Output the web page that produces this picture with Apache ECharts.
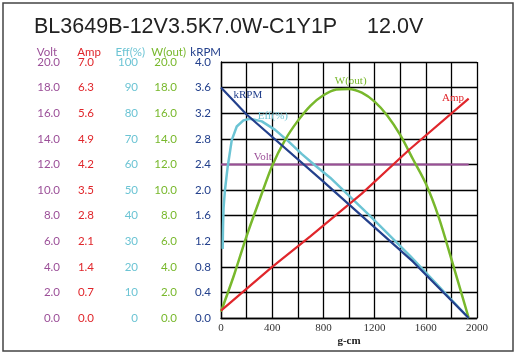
<!DOCTYPE html>
<html>
<head>
<meta charset="utf-8">
<script src="https://cdn.jsdelivr.net/npm/echarts@6/dist/echarts.min.js"></script>
<style>
html,body{margin:0;padding:0;background:#fff;}
#c{width:516px;height:355px;}
</style>
</head>
<body>
<div id="c"></div>
<script>
// ---- data ----
const titleText = 'BL3649B-12V3.5K7.0W-C1Y1P     12.0V';
const xTicks = [0, 400, 800, 1200, 1600, 2000];

const voltTorque = [0, 1935];
const voltValues = [12.0, 12.0];

const ampTorque = [0, 400, 700, 1100, 1470, 1935];
const ampValues = [0.2, 1.4, 2.24, 3.4, 4.6, 6.0];

const effTorque = [13, 16, 20, 31, 52, 84, 123, 175, 227, 319, 423, 527, 632, 736, 853, 1166, 1479, 1935];
const effValues = [27, 36, 43, 50, 59, 69.5, 74.8, 77.2, 77.8, 76.8, 73.5, 69, 64, 59.6, 54.8, 39.8, 24.2, 0];

const wTorque = [0, 100, 200, 300, 400, 500, 600, 700, 800, 900, 1000, 1100, 1200, 1300, 1400, 1500, 1600, 1700, 1800, 1935];
const wValues = [0.5, 3.3, 6.4, 9.2, 11.9, 13.9, 15.4, 16.6, 17.4, 17.85, 17.9, 17.6, 16.9, 15.8, 14.3, 12.4, 10.5, 7.9, 4.6, 0];

const rpmTorque = [0, 200, 800, 1500, 1935];
const rpmValues = [3.6, 3.18, 2.13, 0.88, 0];

// ---- styling ----
const C = {
  volt: '#9b4f98', amp: '#e0262b', eff: '#6cc4d4', w: '#78b82c', rpm: '#23408c'
};
const pair = (xs, ys) => xs.map((x, i) => [x, ys[i]]);

function yAxis(name, max, interval, color, offset, margin, digits, main) {
  return {
    type: 'value', position: 'left', min: 0, max: max, interval: interval,
    offset: offset,
    name: name, nameLocation: 'end', nameGap: 4, nameMoveOverlap: false,
    nameTextStyle: { color: color, fontFamily: 'Lato', fontSize: 11.5, align: 'right', verticalAlign: 'bottom' },
    axisLine: { show: !!main, lineStyle: { color: '#000', width: 1.3 } },
    axisTick: { show: false },
    axisLabel: {
      margin: margin, color: color, fontFamily: 'Lato', fontSize: 11.5,
      formatter: v => v.toFixed(digits)
    },
    splitLine: { show: !!main, lineStyle: { color: '#000', width: 1.3 } }
  };
}

function mark(coord, text, color) {
  return {
    symbol: 'circle', symbolSize: 0, silent: true,
    label: { show: true, position: 'inside', formatter: text, color: color,
             fontFamily: 'Liberation Serif', fontSize: 11 },
    data: [{ coord: coord }]
  };
}

const chart = echarts.init(document.getElementById('c'), null, { renderer: 'canvas' });
chart.setOption({
  animation: false,
  backgroundColor: '#fff',
  title: {
    text: titleText, left: 34, top: 16, padding: 0,
    textStyle: { fontFamily: 'Liberation Sans', fontSize: 21.5, fontWeight: 'normal', color: '#222' }
  },
  graphic: [{
    type: 'rect', shape: { x: 3, y: 3, width: 510, height: 348 },
    style: { fill: 'none', stroke: '#444', lineWidth: 1.5 }, silent: true
  }],
  grid: { left: 221, right: 39, top: 62, bottom: 37, containLabel: false },
  xAxis: {
    type: 'value', min: 0, max: 2000, interval: 200,
    name: 'g-cm', nameLocation: 'middle', nameGap: 18, nameMoveOverlap: false,
    nameTextStyle: { fontFamily: 'Liberation Serif', fontWeight: 'bold', fontSize: 11, color: '#222' },
    axisLine: { show: true, lineStyle: { color: '#000', width: 1.3 } },
    axisTick: { show: false },
    axisLabel: {
      margin: 5, color: '#333', fontFamily: 'Liberation Serif', fontSize: 11,
      formatter: v => (xTicks.indexOf(v) >= 0 ? String(v) : '')
    },
    splitLine: { show: true, lineStyle: { color: '#000', width: 1.3 } }
  },
  yAxis: [
    yAxis('kRPM', 4, 0.4, C.rpm, 0, 10, 1, true),
    yAxis('Volt', 20, 2, C.volt, 164, -3, 1),
    yAxis('Amp', 7, 0.7, C.amp, 120, 7, 1),
    yAxis('Eff(%)', 100, 10, C.eff, 76, 7, 0),
    yAxis('W(out)', 20, 2, C.w, 35, 9, 1)
  ],
  series: [
    { type: 'line', name: 'Volt', yAxisIndex: 1, data: pair(voltTorque, voltValues), showSymbol: false,
      lineStyle: { color: C.volt, width: 2 }, markPoint: mark([327, 12.6], 'Volt', C.volt) },
    { type: 'line', name: 'Eff', yAxisIndex: 3, data: pair(effTorque, effValues), showSymbol: false,
      smooth: false,
      lineStyle: { color: C.eff, width: 2.5 }, markPoint: mark([405, 78.8], 'Eff(%)', C.eff) },
    { type: 'line', name: 'W', yAxisIndex: 4, data: pair(wTorque, wValues), showSymbol: false,
      smooth: 0.3,
      lineStyle: { color: C.w, width: 2.5 }, markPoint: mark([1013, 18.5], 'W(out)', C.w) },
    { type: 'line', name: 'Amp', yAxisIndex: 2, data: pair(ampTorque, ampValues), showSymbol: false,
      lineStyle: { color: C.amp, width: 2.2 }, markPoint: mark([1812, 6.0], 'Amp', C.amp) },
    { type: 'line', name: 'kRPM', yAxisIndex: 0, data: pair(rpmTorque, rpmValues), showSymbol: false,
      lineStyle: { color: C.rpm, width: 2.2 }, markPoint: mark([210, 3.49], 'kRPM', C.rpm) }
  ]
});
</script>
</body>
</html>
